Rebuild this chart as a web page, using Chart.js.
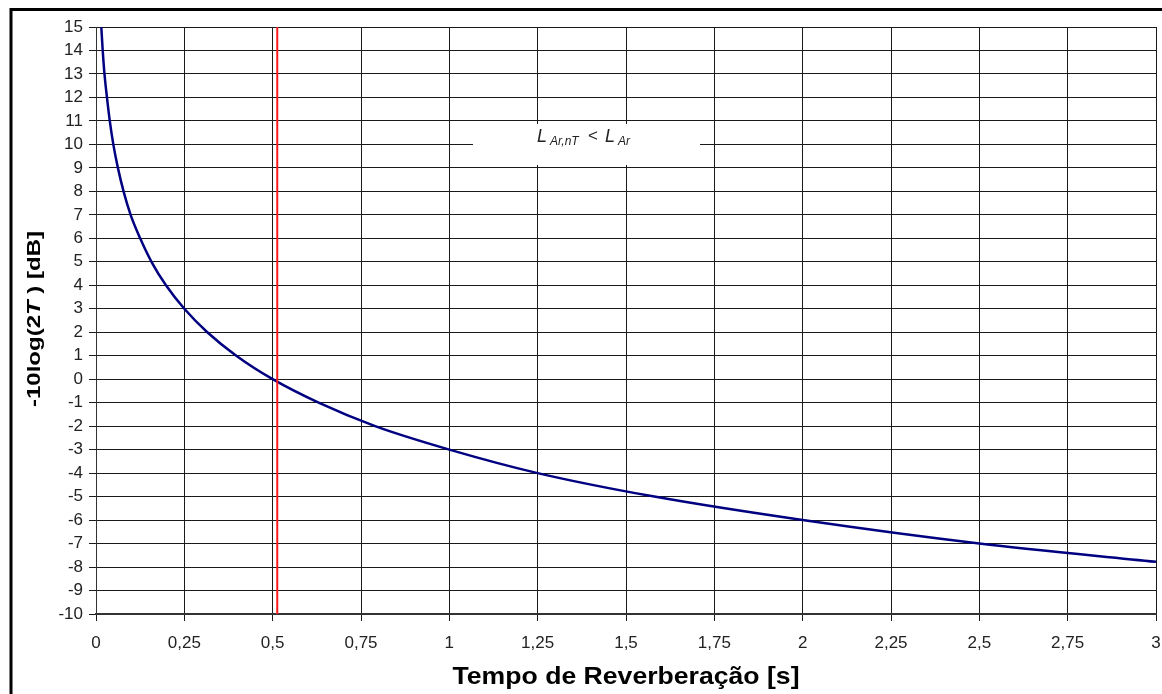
<!DOCTYPE html>
<html><head><meta charset="utf-8">
<script src="https://cdn.jsdelivr.net/npm/chart.js@4/dist/chart.umd.min.js"></script>
<style>html,body{margin:0;padding:0;background:#fff}#wrap{width:1162px;height:694px;position:relative}</style>
</head><body><div id="wrap"><canvas id="c" width="1162" height="694"></canvas></div>
<script>
// Reverberation time T [s]
const timeValues = [0.015,0.019,0.024,0.031,0.039,0.049,0.062,0.078,0.098,0.125,0.157,0.198,0.25,0.315,0.397,0.5,0.63,0.79,1.0,1.25,1.58,2.0,2.5,3.0];
// -10log(2T) [dB]
const dbValues = [15,14,13,12,11,10,9,8,7,6,5,4,3,2,1,0,-1,-2,-3,-4,-5,-6,-7,-7.78];
const limitT = 0.513;
const yLimits = [-10, 15];
const xLimits = [0, 3];
const xTitle = 'Tempo de Reverberação [s]';

const curve = timeValues.map((t,i)=>({x:t,y:dbValues[i]}));
const redLine = [{x:limitT,y:yLimits[0]},{x:limitT,y:yLimits[1]}];

const decor = {
  id:'decor',
  beforeDraw(chart){
    const ctx = chart.ctx;
    ctx.save();
    ctx.fillStyle='#fff';ctx.fillRect(0,0,chart.width,chart.height);
    ctx.restore();
  },
  afterDatasetsDraw(chart){
    const ctx = chart.ctx;
    ctx.save();
    // annotation box
    ctx.fillStyle='#fff';
    ctx.fillRect(473,124,227,41);
    ctx.fillStyle='#222';
    ctx.textBaseline='alphabetic';
    const big='italic 18px "Liberation Sans", Arial';
    const sub='italic 12px "Liberation Sans", Arial';
    ctx.font=big; ctx.fillText('L',537,142);
    ctx.font=sub; ctx.fillText('Ar,nT',550,145);
    ctx.font='17px "Liberation Sans", Arial'; ctx.fillText('<',588,141);
    ctx.font=big; ctx.fillText('L',605,142);
    ctx.font=sub; ctx.fillText('Ar',618,145);
    ctx.restore();
  },
  afterDraw(chart){
    const ctx = chart.ctx;
    ctx.save();
    // outer frame (left/top)
    ctx.strokeStyle='#000';ctx.lineWidth=3;
    ctx.beginPath();ctx.moveTo(11,694);ctx.lineTo(11,9.5);ctx.lineTo(1162,9.5);ctx.stroke();
    // y title with italic T
    ctx.translate(35,319);
    ctx.rotate(-Math.PI/2);
    ctx.scale(1,0.8);
    ctx.fillStyle='#000';
    ctx.textBaseline='middle';
    const parts=[['-10log(2','bold 24px "Liberation Sans", Arial'],['T','bold italic 24px "Liberation Sans", Arial'],[' ) [dB]','bold 24px "Liberation Sans", Arial']];
    let w=0;
    parts.forEach(p=>{ctx.font=p[1];w+=ctx.measureText(p[0]).width;});
    let x=-w/2;
    parts.forEach(p=>{ctx.font=p[1];ctx.fillText(p[0],x,0);x+=ctx.measureText(p[0]).width;});
    ctx.restore();
    // x title
    ctx.save();
    ctx.font='bold 24px "Liberation Sans", Arial';
    ctx.fillStyle='#000';ctx.textAlign='center';ctx.textBaseline='middle';
    const tw=ctx.measureText(xTitle).width;
    ctx.translate(626,677);
    ctx.scale(347/tw,1);
    ctx.fillText(xTitle,0,0);
    ctx.restore();
  }
};

new Chart(document.getElementById('c'),{
  type:'line',
  data:{datasets:[
    {data:redLine,borderColor:'#ff1a1a',borderWidth:2,pointRadius:0,tension:0},
    {data:curve,borderColor:'#000080',borderWidth:2.5,pointRadius:0,cubicInterpolationMode:'monotone'}
  ]},
  options:{
    responsive:false,animation:false,
    layout:{padding:{top:27,right:6,left:0,bottom:0}},
    plugins:{legend:{display:false},tooltip:{enabled:false}},
    scales:{
      x:{type:'linear',min:xLimits[0],max:xLimits[1],
        afterFit(s){s.height=80;s.paddingRight=0;s.paddingLeft=0;},
        border:{color:'#333',width:2},
        grid:{color:'#1a1a1a',lineWidth:1,tickLength:7,tickColor:'#1a1a1a'},
        ticks:{stepSize:0.25,color:'#222',font:{family:'"Liberation Sans", Arial',size:17},padding:12,maxRotation:0,autoSkip:false,
          callback:v=>String(v).replace('.',',')}},
      y:{type:'linear',min:yLimits[0],max:yLimits[1],
        afterFit(s){s.width=96;s.paddingTop=0;s.paddingBottom=0;},
        border:{color:'#333',width:1},
        grid:{color:'#1a1a1a',lineWidth:1,tickLength:7,tickColor:'#1a1a1a'},
        ticks:{stepSize:1,color:'#222',font:{family:'"Liberation Sans", Arial',size:17},padding:6,autoSkip:false}}
    }
  },
  plugins:[decor]
});
</script></body></html>
